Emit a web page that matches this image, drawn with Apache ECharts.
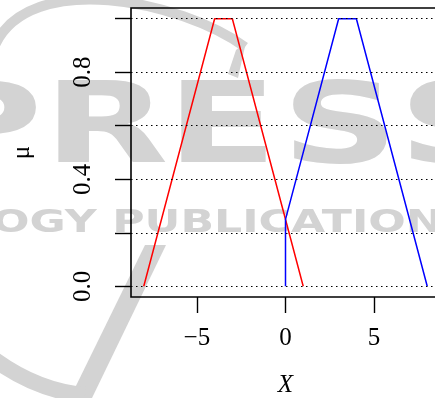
<!DOCTYPE html>
<html>
<head>
<meta charset="utf-8">
<script src="https://cdn.jsdelivr.net/npm/echarts@6/dist/echarts.min.js"></script>
<style>
html,body{margin:0;padding:0;background:#fff;}
#chart{width:435px;height:398px;}
</style>
</head>
<body>
<div id="chart"></div>
<script>
// ---- data ----
const redX = [-8, -4, -3, 1];
const redMu = [0, 1, 1, 0];
const blueX = [0, 0, 3, 4, 8];
const blueMu = [0, 0.25, 1, 1, 0];
const xTicks = [-5, 0, 5];
const yTicks = [0, 0.2, 0.4, 0.6, 0.8, 1.0];
const yLabels = [0, 0.4, 0.8];
const gridLevels = [0, 0.2, 0.4, 0.6, 0.8, 1.0];

const serif = '"Liberation Serif", "DejaVu Serif", serif';
const wmColor = '#d3d3d3';
const wmFont = 'bold 112px "DejaVu Sans"';

const chart = echarts.init(document.getElementById('chart'), null, {renderer: 'canvas'});

const pair = (xs, ys) => xs.map((x, i) => [x, ys[i]]);

const pressLetters = ['P', 'R', 'E', 'S', 'S'];
const pressCenters = [-17, 106, 222, 340, 457];

const graphics = [];
pressLetters.forEach((ch, i) => {
  graphics.push({
    type: 'text', z: -10, silent: true,
    x: pressCenters[i], y: 133, scaleX: 1.45,
    style: {text: ch, font: wmFont, fill: wmColor, align: 'center', verticalAlign: 'middle'}
  });
});
graphics.push({
  type: 'text', z: -10, silent: true,
  x: -8, y: 224, scaleX: 1.38,
  style: {text: 'OGY PUBLICATIONS', font: 'bold 32px "DejaVu Sans"', fill: wmColor, align: 'left', verticalAlign: 'middle'}
});
graphics.push({
  type: 'bezierCurve', z: -10, silent: true,
  shape: {x1: -5, y1: 45, x2: 245, y2: 47, cpx1: 30, cpy1: -30, cpx2: 180, cpy2: 0},
  style: {stroke: wmColor, lineWidth: 10, fill: null}
});
graphics.push({
  type: 'polygon', z: -10, silent: true,
  shape: {points: [[246, 42], [238, 78], [228, 74], [236, 50]]},
  style: {fill: wmColor}
});
graphics.push({
  type: 'polygon', z: -10, silent: true,
  shape: {points: [[145, 245], [166, 245], [92, 398], [70, 398]]},
  style: {fill: wmColor}
});
graphics.push({
  type: 'bezierCurve', z: -10, silent: true,
  shape: {x1: -5, y1: 360, x2: 85, y2: 395, cpx1: 20, cpy1: 378, cpx2: 50, cpy2: 392},
  style: {stroke: wmColor, lineWidth: 16, fill: null}
});

const option = {
  animation: false,
  backgroundColor: '#ffffff',
  graphic: graphics,
  grid: {
    left: 131, top: 8, right: -5, bottom: 101,
    outerBoundsMode: 'none', containLabel: false,
    show: true, borderColor: '#000', borderWidth: 1.6, backgroundColor: 'transparent'
  },
  xAxis: {
    type: 'value', min: -8.72, max: 8.72,
    name: 'X', nameLocation: 'middle', nameGap: 76,
    nameTextStyle: {fontFamily: serif, fontStyle: 'italic', fontSize: 25, color: '#000'},
    axisLine: {show: false, onZero: false},
    axisTick: {show: true, customValues: xTicks, length: 16, lineStyle: {color: '#000', width: 1.4}},
    axisLabel: {
      customValues: xTicks, margin: 29, fontFamily: serif, fontSize: 25, color: '#000',
      formatter: v => (v < 0 ? '\u2212' + Math.abs(v) : String(v))
    },
    splitLine: {show: false}
  },
  yAxis: {
    type: 'value', min: -0.04, max: 1.04,
    name: '\u03bc', nameLocation: 'middle', nameGap: 96, nameRotate: 90,
    nameTextStyle: {fontFamily: serif, fontSize: 25, color: '#000'},
    axisLine: {show: false, onZero: false},
    axisTick: {show: true, customValues: yTicks, length: 16, lineStyle: {color: '#000', width: 1.4}},
    axisLabel: {
      customValues: yLabels, rotate: 90, margin: 35, fontFamily: serif, fontSize: 25, color: '#000',
      formatter: v => v.toFixed(1)
    },
    splitLine: {show: false}
  },
  series: [
    {
      type: 'line', data: pair(redX, redMu), showSymbol: false, symbol: 'none',
      lineStyle: {color: '#ff0000', width: 1.5}, z: 3,
      markLine: {
        silent: true, symbol: ['none', 'none'], label: {show: false},
        lineStyle: {type: [1.5, 3.5], color: '#000', width: 1.2},
        emphasis: {disabled: true},
        data: gridLevels.map(v => ({yAxis: v}))
      }
    },
    {
      type: 'line', data: pair(blueX, blueMu), showSymbol: false, symbol: 'none',
      lineStyle: {color: '#0000ff', width: 1.5}, z: 3
    }
  ]
};
chart.setOption(option);
</script>
</body>
</html>
